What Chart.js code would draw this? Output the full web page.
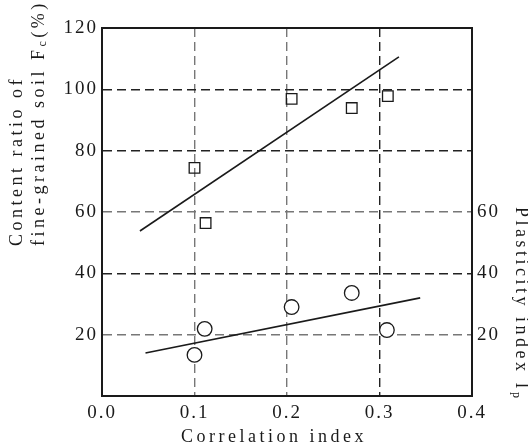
<!DOCTYPE html>
<html>
<head>
<meta charset="utf-8">
<script src="https://cdn.jsdelivr.net/npm/chart.js@4.4.1/dist/chart.umd.min.js"></script>
<style>
  html, body { margin: 0; padding: 0; background: #fff; }
  #wrap { width: 528px; height: 448px; }
</style>
</head>
<body>
<div id="wrap"><canvas id="fcChart" width="528" height="448"></canvas></div>
<script>
// fine-grained content Fc (%) against correlation index
const fcIndex = [0.100, 0.112, 0.205, 0.270, 0.309];
const fcValues = [74.4, 56.4, 96.9, 93.9, 97.8];
const fcFitX = [0.041, 0.321];
const fcFitY = [53.8, 110.6];

// plasticity index Ip against correlation index
const ipIndex = [0.100, 0.111, 0.205, 0.270, 0.308];
const ipValues = [13.4, 21.9, 29.0, 33.6, 21.5];
const ipFitX = [0.047, 0.344];
const ipFitY = [14.0, 32.0];

const xTicks = [0.0, 0.1, 0.2, 0.3, 0.4];
const rightTicks = [20, 40, 60];

const SERIF = "'Liberation Serif', 'DejaVu Serif', serif";
const INK = '#1a1a1a';

const toPoints = (xs, ys) => xs.map((x, i) => ({ x, y: ys[i] }));

// darker dashes on some grid lines, lighter on others
const darkY = [40, 80, 100];
const darkX = [0.3];
const gridY = ctx => darkY.includes(ctx.tick.value) ? '#222' : '#777';
const gridX = ctx => darkX.some(v => Math.abs(v - ctx.tick.value) < 1e-6) ? '#222' : '#777';

const tickFont = { family: SERIF, size: 19 };

// axis titles with subscripts, drawn by hand
const axisTitles = {
    id: 'axisTitles',
    beforeDraw(chart) {
        chart.ctx.letterSpacing = '2px';
    },
    afterDraw(chart) {
        const ctx = chart.ctx;
        ctx.save();
        ctx.fillStyle = INK;
        ctx.letterSpacing = '3.5px';
        ctx.textBaseline = 'middle';
        const big = `18px ${SERIF}`;
        const small = `12px ${SERIF}`;

        const run = (parts, x0, y0) => {
            let x = x0;
            parts.forEach(([text, font, dy]) => {
                ctx.font = font;
                ctx.fillText(text, x, y0 + dy);
                x += ctx.measureText(text).width;
            });
        };

        // bottom
        ctx.font = big;
        ctx.textAlign = 'center';
        ctx.fillText('Correlation index', 274, 437);
        ctx.textAlign = 'left';

        // left, two lines reading upward
        ctx.save();
        ctx.translate(0, 246);
        ctx.rotate(-Math.PI / 2);
        run([['Content ratio of', big, 0]], 0, 17);
        run([['fine-grained soil F', big, 0], ['c', small, 4], ['(%)', big, 0]], 0, 39);
        ctx.restore();

        // right, reading downward
        ctx.save();
        ctx.translate(521, 207);
        ctx.rotate(Math.PI / 2);
        run([['Plasticity index I', big, 0], ['p', small, 5]], 0, 0);
        ctx.restore();

        ctx.restore();
    }
};

new Chart(document.getElementById('fcChart'), {
    type: 'scatter',
    data: {
        datasets: [
            {
                label: 'Fc', data: toPoints(fcIndex, fcValues),
                pointStyle: 'rect', pointRadius: 7.5, borderWidth: 1.3,
                borderColor: INK, backgroundColor: 'rgba(0,0,0,0)',
                xAxisID: 'x', yAxisID: 'y'
            },
            {
                label: 'Fc fit', data: toPoints(fcFitX, fcFitY),
                showLine: true, pointRadius: 0, borderWidth: 1.6, borderColor: INK,
                xAxisID: 'x', yAxisID: 'y'
            },
            {
                label: 'Ip', data: toPoints(ipIndex, ipValues),
                pointStyle: 'circle', pointRadius: 7.3, borderWidth: 1.3,
                borderColor: INK, backgroundColor: '#fff',
                xAxisID: 'x', yAxisID: 'y1'
            },
            {
                label: 'Ip fit', data: toPoints(ipFitX, ipFitY),
                showLine: true, pointRadius: 0, borderWidth: 1.6, borderColor: INK,
                xAxisID: 'x', yAxisID: 'y1'
            }
        ]
    },
    options: {
        responsive: false, animation: false,
        layout: { padding: 0 },
        plugins: { legend: { display: false }, tooltip: { enabled: false } },
        scales: {
            x: {
                type: 'linear', position: 'bottom', min: 0, max: 0.4,
                afterBuildTicks: s => { s.ticks = xTicks.map(value => ({ value })); },
                afterFit: s => { s.height = 52; },
                ticks: { font: tickFont, color: INK, padding: 6, callback: v => v.toFixed(1) },
                grid: { color: gridX, lineWidth: 1.4, drawTicks: false },
                border: { display: true, color: INK, width: 2, dash: [9, 5] }
            },
            xTop: {
                type: 'linear', position: 'top', min: 0, max: 0.4,
                afterFit: s => { s.height = 28; },
                ticks: { display: false },
                grid: { display: false },
                border: { display: true, color: INK, width: 2 }
            },
            y: {
                type: 'linear', position: 'left', min: 0, max: 120,
                afterFit: s => { s.width = 102; },
                ticks: { stepSize: 20, font: tickFont, color: INK, padding: 4,
                         callback: v => v === 0 ? '' : v },
                grid: { color: gridY, lineWidth: 1.4, drawTicks: false },
                border: { display: true, color: INK, width: 2, dash: [9, 5] }
            },
            y1: {
                type: 'linear', position: 'right', min: 0, max: 120,
                afterBuildTicks: s => { s.ticks = rightTicks.map(value => ({ value })); },
                afterFit: s => { s.width = 56; },
                ticks: { font: tickFont, color: INK, padding: 5 },
                grid: { display: false, drawTicks: false },
                border: { display: true, color: INK, width: 2 }
            }
        }
    },
    plugins: [axisTitles]
});
</script>
</body>
</html>
